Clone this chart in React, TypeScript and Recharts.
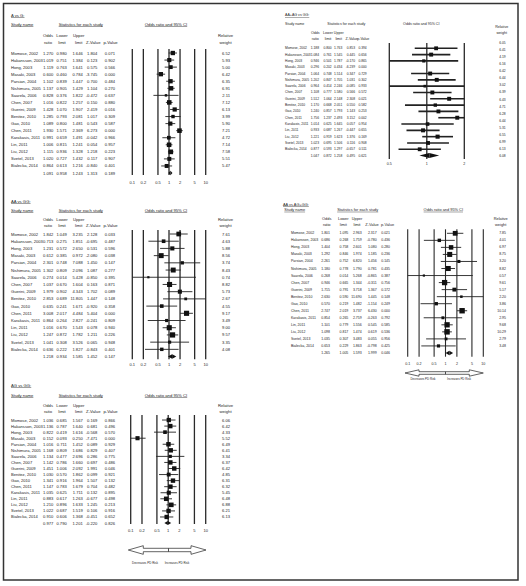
import React from 'react';
import { ScatterChart, Scatter, XAxis, YAxis, CartesianGrid, ErrorBar, ReferenceLine } from 'recharts';

const FONT = '"Liberation Sans", Arial, sans-serif';
const INK = '#1e1e1e';

const studies = [
  'Momose, 2002', 'Hakansson, 2003', 'Hong, 2003', 'Masaki, 2003', 'Parsian, 2004',
  'Nishimura, 2005', 'Saarela, 2006', 'Chen, 2007', 'Guerini, 2009', 'Benitez, 2010',
  'Gao, 2010', 'Chen, 2011', 'Karakasis, 2011', 'Lin, 2011', 'Liu, 2012', 'Svetel, 2013', 'Bialecka, 2014',
];

// A vs G
const aOdds = [1.270, 1.019, 1.119, 0.600, 1.102, 1.137, 0.828, 1.016, 1.428, 1.285, 1.089, 1.930, 0.991, 1.006, 1.115, 1.020, 0.864];
const aLower = [0.980, 0.751, 0.763, 0.460, 0.839, 0.905, 0.376, 0.822, 1.070, 0.793, 0.800, 1.571, 0.659, 0.815, 0.936, 0.727, 0.613];
const aUpper = [1.646, 1.384, 1.641, 0.784, 1.447, 1.429, 1.822, 1.257, 1.907, 2.081, 1.481, 2.369, 1.491, 1.241, 1.328, 1.432, 1.216];
const aZ = [1.804, 0.123, 0.575, -3.745, 0.700, 1.104, -0.472, 0.150, 2.419, 1.017, 0.543, 6.273, -0.042, 0.054, 1.218, 0.117, -0.840];
const aP = [0.071, 0.902, 0.566, 0.000, 0.484, 0.270, 0.637, 0.880, 0.016, 0.309, 0.587, 0.000, 0.966, 0.957, 0.223, 0.907, 0.401];
const aWeight = [6.52, 5.93, 5.00, 6.42, 6.35, 6.91, 2.11, 7.12, 6.13, 3.99, 5.90, 7.21, 4.72, 7.14, 7.58, 5.51, 5.47];
const aPooled = [1.091, 0.958, 1.243, 1.313, 0.189];

// AA+AG vs GG
const bOdds = [1.188, 1.084, 0.946, 0.296, 1.064, 1.202, 0.964, 1.108, 1.512, 1.170, 1.240, 1.756, 1.014, 0.933, 1.221, 1.023, 0.877];
const bLower = [0.800, 0.761, 0.501, 0.202, 0.748, 0.847, 0.414, 0.777, 1.064, 0.668, 0.857, 1.237, 0.625, 0.687, 0.919, 0.695, 0.593];
const bUpper = [1.763, 1.545, 1.787, 0.434, 1.514, 1.705, 2.246, 1.580, 2.148, 2.051, 1.793, 2.493, 1.645, 1.267, 1.623, 1.506, 1.297];
const bZ = [0.853, 0.445, -0.170, -6.239, 0.347, 1.031, -0.085, 0.566, 2.308, 0.550, 1.143, 3.152, 0.057, -0.447, 1.376, 0.116, -0.657];
const bP = [0.394, 0.656, 0.865, 0.000, 0.729, 0.302, 0.933, 0.572, 0.021, 0.582, 0.253, 0.002, 0.954, 0.655, 0.169, 0.908, 0.511];
const bWeight = [6.05, 6.41, 4.19, 6.16, 6.42, 6.44, 3.02, 6.39, 6.43, 4.71, 6.28, 6.44, 5.31, 6.55, 6.99, 6.13, 6.08];
const bPooled = [1.047, 0.872, 1.258, 0.495, 0.621];

// AA vs GG
const cOdds = [1.842, 0.713, 1.231, 0.612, 2.301, 1.302, 0.274, 1.037, 1.979, 2.853, 0.635, 3.008, 0.864, 1.016, 1.247, 1.041, 0.636];
const cLower = [1.049, 0.275, 0.572, 0.385, 0.748, 0.809, 0.014, 0.670, 0.902, 0.689, 0.241, 2.017, 0.264, 0.670, 0.872, 0.308, 0.222];
const cUpper = [3.235, 1.851, 2.650, 0.972, 7.088, 2.096, 5.428, 1.604, 4.343, 11.805, 1.671, 4.484, 2.827, 1.543, 1.782, 3.526, 1.827];
const cZ = [2.128, -0.695, 0.531, -2.080, 1.450, 1.087, -0.850, 0.163, 1.702, 1.447, -0.920, 5.404, -0.241, 0.078, 1.211, 0.065, -0.843];
const cP = [0.033, 0.487, 0.596, 0.038, 0.147, 0.277, 0.395, 0.871, 0.089, 0.148, 0.358, 0.000, 0.809, 0.940, 0.226, 0.948, 0.401];
const cWeight = [7.61, 4.63, 5.88, 8.56, 3.74, 8.43, 0.74, 8.82, 5.73, 2.67, 4.55, 9.17, 3.49, 9.00, 9.57, 3.35, 4.08];
const cPooled = [1.218, 0.934, 1.585, 1.452, 0.147];

// AA vs AG+GG
const dOdds = [1.801, 0.686, 1.404, 1.292, 2.261, 1.180, 0.268, 0.946, 1.715, 2.630, 0.570, 2.747, 0.854, 1.101, 1.098, 1.035, 0.653];
const dLower = [1.095, 0.268, 0.758, 0.846, 0.752, 0.778, 0.014, 0.665, 0.791, 0.590, 0.219, 2.019, 0.265, 0.779, 0.817, 0.307, 0.229];
const dUpper = [2.963, 1.759, 2.601, 1.974, 6.820, 1.790, 5.268, 1.344, 3.718, 11.690, 1.482, 3.737, 2.759, 1.556, 1.474, 3.483, 1.863];
const dZ = [2.317, -0.780, 1.080, 1.185, 1.456, 0.781, -0.865, -0.311, 1.367, 1.445, -1.154, 6.430, -0.263, 0.545, 0.619, 0.055, -0.798];
const dP = [0.021, 0.436, 0.280, 0.236, 0.145, 0.435, 0.387, 0.756, 0.172, 0.148, 0.249, 0.000, 0.792, 0.585, 0.536, 0.956, 0.425];
const dWeight = [7.85, 4.01, 6.97, 8.75, 3.20, 8.82, 0.57, 9.61, 5.17, 2.20, 3.86, 10.14, 2.95, 9.68, 10.29, 2.79, 3.48];
const dPooled = [1.265, 1.005, 1.593, 1.999, 0.046];

// AG vs GG
const eOdds = [1.036, 1.136, 0.822, 0.152, 1.016, 1.168, 1.134, 1.142, 1.451, 1.030, 1.341, 1.147, 1.035, 0.883, 1.210, 1.022, 0.910];
const eLower = [0.685, 0.787, 0.419, 0.093, 0.711, 0.809, 0.477, 0.786, 1.006, 0.570, 0.916, 0.783, 0.625, 0.617, 0.896, 0.687, 0.606];
const eUpper = [1.567, 1.640, 1.616, 0.250, 1.452, 1.686, 2.696, 1.660, 2.092, 1.862, 1.964, 1.679, 1.711, 1.263, 1.633, 1.519, 1.368];
const eZ = [0.169, 0.681, -0.568, -7.471, 0.089, 0.829, 0.286, 0.697, 1.991, 0.099, 1.507, 0.704, 0.132, -0.677, 1.245, 0.106, -0.451];
const eP = [0.866, 0.496, 0.570, 0.000, 0.929, 0.407, 0.775, 0.486, 0.046, 0.921, 0.132, 0.482, 0.895, 0.498, 0.213, 0.916, 0.652];
const eWeight = [6.06, 6.42, 4.33, 5.52, 6.49, 6.41, 3.34, 6.37, 6.42, 4.85, 6.31, 6.32, 5.45, 6.48, 6.88, 6.21, 6.13];
const ePooled = [0.977, 0.790, 1.201, -0.220, 0.826];

const wideTicks = [0.1, 0.2, 0.5, 1, 2, 5, 10];
const narrowTicks = [0.5, 1, 2];

type Panel = {
  title: string;
  odds: number[]; lower: number[]; upper: number[]; z: number[]; p: number[]; weight: number[]; pooled: number[];
  ticks: number[];
  box: [number, number, number, number];
  plotX: [number, number];
  plotY: [number, number];
  rowDomain: [number, number];
  wStart: number; wStep: number;
  titleXY: [number, number];
  studyX: number; headY: number; statX: number; ciX: number;
  colX: number[]; colY: [number, number];
  relX: number; relY: [number, number];
  labelX: number; valX: number[]; weightX: number;
  rowFs: number; headFs: number; tickFs: number; tickGap: number;
  sq: number; ciW: number; gridW: number; dia: number;
  underline: boolean;
  arrow?: { x0: number; x1: number; xm: number; y: number; hl: number; hh: number; sh: number; ly: number; lx: [number, number]; fs: number };
};

const colsLeft = [53.3, 66.7, 82.7, 97.3, 115];
const headLeft = [48, 62, 78.7, 93.3, 110.5];

const panels: Panel[] = [
  {
    title: 'A vs G:', odds: aOdds, lower: aLower, upper: aUpper, z: aZ, p: aP, weight: aWeight, pooled: aPooled,
    ticks: wideTicks, box: [0, 0, 263, 190], plotX: [132.3, 205.7], plotY: [49, 175], rowDomain: [-0.567, 17.28],
    wStart: 0, wStep: 1, titleXY: [11, 15], studyX: 11, headY: 24, statX: 80.8, ciX: 166,
    colX: headLeft, colY: [35, 42], relX: 225.5, relY: [35, 42], labelX: 11, valX: colsLeft, weightX: 230,
    rowFs: 4.1, headFs: 4.2, tickFs: 4, tickGap: 6, sq: 1.7, ciW: 0.9, gridW: 1.3, dia: 2.2, underline: true,
  },
  {
    title: 'AA+AG vs GG:', odds: bOdds, lower: bLower, upper: bUpper, z: bZ, p: bP, weight: bWeight, pooled: bPooled,
    ticks: narrowTicks, box: [265, 0, 253, 190], plotX: [389.3, 464.3], plotY: [43, 159], rowDomain: [-0.84, 17.54],
    wStart: -0.83, wStep: 1.119, titleXY: [285, 15], studyX: 285, headY: 24, statX: 346.3, ciX: 421.3,
    colX: [315.3, 328, 338.7, 351.7, 363.3], colY: [33.3, 39], relX: 501.7, relY: [26.7, 33.3],
    labelX: 285, valX: [319, 331.7, 342.3, 355, 366.7], weightX: 505.7,
    rowFs: 3.3, headFs: 3.6, tickFs: 3.6, tickGap: 3.5, sq: 1.55, ciW: 1.6, gridW: 1.3, dia: 2.5, underline: false,
  },
  {
    title: 'AA vs GG:', odds: cOdds, lower: cLower, upper: cUpper, z: cZ, p: cP, weight: cWeight, pooled: cPooled,
    ticks: wideTicks, box: [0, 190, 263, 190], plotX: [132.3, 205.7], plotY: [230, 359.3], rowDomain: [-0.555, 17.38],
    wStart: 0, wStep: 1, titleXY: [11, 201], studyX: 11, headY: 210, statX: 80.8, ciX: 166,
    colX: headLeft, colY: [219.3, 225.5], relX: 225.5, relY: [219.3, 225.5], labelX: 11, valX: colsLeft, weightX: 230,
    rowFs: 4.1, headFs: 4.2, tickFs: 4, tickGap: 3.5, sq: 1.7, ciW: 0.9, gridW: 1.3, dia: 2.3, underline: true,
  },
  {
    title: 'AA vs AG+GG:', odds: dOdds, lower: dLower, upper: dUpper, z: dZ, p: dP, weight: dWeight, pooled: dPooled,
    ticks: wideTicks, box: [265, 190, 253, 200], plotX: [407.7, 483.3], plotY: [229.3, 356.7], rowDomain: [-0.57, 17.53],
    wStart: 0, wStep: 1, titleXY: [283, 204], studyX: 284.3, headY: 209.3, statX: 357.7, ciX: 443.3,
    colX: [326.7, 343.3, 357, 372, 387.5], colY: [218.3, 224.3], relX: 500.7, relY: [218.3, 224.3],
    labelX: 291, valX: [330, 348.3, 361.7, 376.7, 390], weightX: 506,
    rowFs: 3.5, headFs: 3.9, tickFs: 3.6, tickGap: 5.5, sq: 1.7, ciW: 0.9, gridW: 1.1, dia: 2.3, underline: true,
    arrow: { x0: 405, x1: 483.3, xm: 445.5, y: 373, hl: 14, hh: 3.2, sh: 1.3, ly: 379.3, lx: [423, 459], fs: 2.9 },
  },
  {
    title: 'AG vs GG:', odds: eOdds, lower: eLower, upper: eUpper, z: eZ, p: eP, weight: eWeight, pooled: ePooled,
    ticks: wideTicks, box: [0, 380, 263, 200], plotX: [130.7, 205.7], plotY: [415, 524], rowDomain: [-0.83, 17.16],
    wStart: 0, wStep: 1, titleXY: [11, 385], studyX: 11, headY: 395, statX: 80.8, ciX: 166,
    colX: headLeft, colY: [405.5, 411], relX: 225.5, relY: [405.5, 411], labelX: 11, valX: colsLeft, weightX: 230,
    rowFs: 4.1, headFs: 4.2, tickFs: 4, tickGap: 5.5, sq: 1.75, ciW: 0.9, gridW: 1.3, dia: 2.0, underline: true,
    arrow: { x0: 128.3, x1: 206, xm: 168.5, y: 550, hl: 15, hh: 4.3, sh: 1.7, ly: 562.7, lx: [145, 177], fs: 3.0 },
  },
];

const f3 = (v: number) => v.toFixed(3);

const Forest = ({ p }: { p: Panel }) => {
  const [bx, by, bw, bh] = p.box;
  const xh = 12;
  const n = studies.length;
  const dMin = p.ticks[0];
  const dMax = p.ticks[p.ticks.length - 1];
  const margin = {
    left: p.plotX[0] - bx,
    right: bx + bw - p.plotX[1],
    top: p.plotY[0] - by,
    bottom: by + bh - p.plotY[1] - xh,
  };
  const rows = studies.map((name, i) => ({
    row: i, tx: 0.5, name,
    or: p.odds[i], lo: p.lower[i], hi: p.upper[i], z: p.z[i], pv: p.p[i], w: p.weight[i],
    // interval drawn only inside the axis window, like the reference
    ci: [p.odds[i] - Math.max(p.lower[i], dMin), Math.min(p.upper[i], dMax) - p.odds[i]],
  }));
  const visible = rows.filter((r) => r.or >= dMin && r.or <= dMax);
  const [pOr, pLo, pHi, pZ, pP] = p.pooled;
  const textRows = [
    ...rows,
    { row: n, tx: 0.5, name: '', or: pOr, lo: pLo, hi: pHi, z: pZ, pv: pP, w: 0, ci: [0, 0] },
  ];
  const weightRows = p.weight.map((w, k) => ({ row: p.wStart + k * p.wStep, tx: 0.5, w }));

  const square = (props: any) => {
    const s = Math.max(2.2, p.sq * Math.sqrt(props.payload.w));
    return <rect x={props.cx - s / 2} y={props.cy - s / 2} width={s} height={s} fill="#111" />;
  };
  const rowText = (props: any) => {
    const d = props.payload;
    const vals = [d.or, d.lo, d.hi, d.z, d.pv].map(f3);
    return (
      <g fontFamily={FONT} fontSize={p.rowFs} fill={INK}>
        {d.name ? <text x={p.labelX - bx} y={props.cy} dominantBaseline="central">{d.name}</text> : null}
        {vals.map((v, j) => (
          <text key={j} x={p.valX[j] - bx} y={props.cy} textAnchor="end" dominantBaseline="central">{v}</text>
        ))}
      </g>
    );
  };
  const weightText = (props: any) => (
    <text x={p.weightX - bx} y={props.cy} textAnchor="end" dominantBaseline="central"
      fontFamily={FONT} fontSize={p.rowFs} fill={INK}>
      {props.payload.w.toFixed(2)}
    </text>
  );
  const diaLeft = (props: any) => (
    <polygon points={`${props.x1},${props.y1} ${props.x2},${props.y2 - p.dia} ${props.x2},${props.y2 + p.dia}`} fill="#111" />
  );
  const diaRight = (props: any) => (
    <polygon points={`${props.x1},${props.y1 - p.dia} ${props.x2},${props.y2} ${props.x1},${props.y1 + p.dia}`} fill="#111" />
  );

  return (
    <div style={{ position: 'absolute', left: bx, top: by }}>
      <ScatterChart width={bw} height={bh} margin={margin}>
        <XAxis
          xAxisId="or" type="number" dataKey="or" scale="log" domain={[dMin, dMax]}
          allowDataOverflow ticks={p.ticks} interval={0} axisLine={false} tickLine={false} tickSize={0}
          tickMargin={p.tickGap} height={xh} tick={{ fontSize: p.tickFs, fill: INK, fontFamily: FONT }}
          tickFormatter={(v: number) => String(v)}
        />
        <XAxis xAxisId="txt" type="number" dataKey="tx" domain={[0, 1]} hide />
        <YAxis type="number" dataKey="row" domain={p.rowDomain} reversed hide />
        <CartesianGrid xAxisId="or" horizontal={false} stroke="#2a2a2a" strokeWidth={p.gridW} fill="none" />
        <Scatter xAxisId="or" data={visible} shape={square} isAnimationActive={false}>
          <ErrorBar dataKey="ci" direction="x" width={0} stroke="#222" strokeWidth={p.ciW} isAnimationActive={false} />
        </Scatter>
        <ReferenceLine xAxisId="or" segment={[{ x: pLo, y: n }, { x: pOr, y: n }]} shape={diaLeft} />
        <ReferenceLine xAxisId="or" segment={[{ x: pOr, y: n }, { x: pHi, y: n }]} shape={diaRight} />
        <Scatter xAxisId="txt" data={textRows} shape={rowText} isAnimationActive={false} />
        <Scatter xAxisId="txt" data={weightRows} shape={weightText} isAnimationActive={false} />
      </ScatterChart>
    </div>
  );
};

const Headers = ({ p }: { p: Panel }) => {
  const ul = p.underline ? { textDecoration: 'underline' } : {};
  const fs = p.headFs;
  const a = p.arrow;
  return (
    <g fontFamily={FONT} fill={INK} fontSize={fs}>
      <text x={p.titleXY[0]} y={p.titleXY[1]} dominantBaseline="central" style={{ textDecoration: 'underline' }}>{p.title}</text>
      <text x={p.studyX} y={p.headY} dominantBaseline="central" style={ul}>Study name</text>
      <text x={p.statX} y={p.headY} textAnchor="middle" dominantBaseline="central" style={ul}>Statistics for each study</text>
      <text x={p.ciX} y={p.headY} textAnchor="middle" dominantBaseline="central" style={ul}>Odds ratio and 95% CI</text>
      {['Odds', 'Lower', 'Upper'].map((t, j) => (
        <text key={t} x={p.colX[j]} y={p.colY[0]} textAnchor="middle" dominantBaseline="central">{t}</text>
      ))}
      {['ratio', 'limit', 'limit', 'Z-Value', 'p-Value'].map((t, j) => (
        <text key={j} x={p.colX[j]} y={p.colY[1]} textAnchor="middle" dominantBaseline="central">{t}</text>
      ))}
      <text x={p.relX} y={p.relY[0]} textAnchor="middle" dominantBaseline="central">Relative</text>
      <text x={p.relX} y={p.relY[1]} textAnchor="middle" dominantBaseline="central">weight</text>
      {a ? (
        <g>
          <polygon
            points={`${a.x0},${a.y} ${a.x0 + a.hl},${a.y - a.hh} ${a.x0 + a.hl},${a.y - a.sh} ${a.xm},${a.y - a.sh} ${a.xm},${a.y + a.sh} ${a.x0 + a.hl},${a.y + a.sh} ${a.x0 + a.hl},${a.y + a.hh}`}
            fill="#fff" stroke="#222" strokeWidth={0.7}
          />
          <polygon
            points={`${a.x1},${a.y} ${a.x1 - a.hl},${a.y - a.hh} ${a.x1 - a.hl},${a.y - a.sh} ${a.xm},${a.y - a.sh} ${a.xm},${a.y + a.sh} ${a.x1 - a.hl},${a.y + a.sh} ${a.x1 - a.hl},${a.y + a.hh}`}
            fill="#fff" stroke="#222" strokeWidth={0.7}
          />
          <text x={a.lx[0]} y={a.ly} textAnchor="middle" dominantBaseline="central" fontSize={a.fs}>Decreases PD Risk</text>
          <text x={a.lx[1]} y={a.ly} textAnchor="middle" dominantBaseline="central" fontSize={a.fs}>Increases PD Risk</text>
        </g>
      ) : null}
    </g>
  );
};

export default function App() {
  return (
    <div style={{ position: 'absolute', left: 0, top: 0, width: 526, height: 586, background: '#fff' }}>
      <svg width={526} height={586} style={{ position: 'absolute', left: 0, top: 0 }}>
        <rect x={3.5} y={3.5} width={514.5} height={576.5} fill="none" stroke="#333" strokeWidth={1.5} />
        {panels.map((p) => <Headers key={p.title} p={p} />)}
      </svg>
      {panels.map((p) => <Forest key={p.title} p={p} />)}
    </div>
  );
}
